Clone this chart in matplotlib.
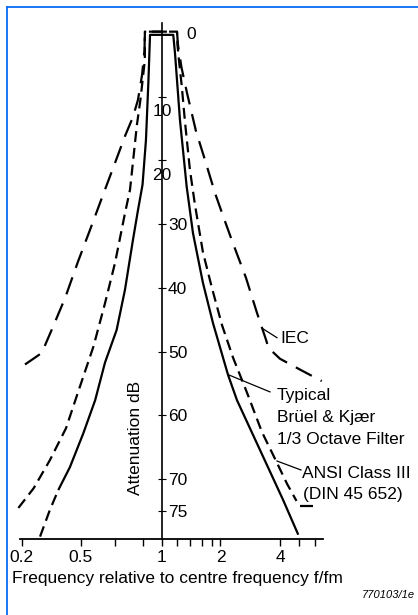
import numpy as np
import matplotlib.pyplot as plt
from matplotlib.lines import Line2D

plt.rcParams['font.family'] = ['Liberation Sans', 'DejaVu Sans']

# =========================
# DATOS (f/fm , atenuacion dB)
# =========================

# curva tipica Brüel & Kjær (solida), de izquierda a derecha
typ_f = [0.353, 0.423, 0.507, 0.540, 0.569, 0.610, 0.664, 0.720, 0.758, 0.794, 0.826, 0.851, 0.867,
         1.143, 1.167, 1.238, 1.340, 1.444, 1.625, 1.830, 2.183, 2.424, 3.169, 4.143, 4.951]
typ_db = [71.7, 68.1, 62.8, 57.6, 51.7, 46.6, 40.3, 32.5, 27.8, 23.8, 16.8, 7.4, 0.3,
          0.3, 3.2, 13.7, 24.1, 31.4, 39.2, 45.5, 53.6, 57.6, 65.4, 73.2, 78.7]
# tramo final izquierdo (punteado)
typ_tail_f = [0.266, 0.310, 0.353]
typ_tail_db = [79.0, 74.8, 71.7]

# ANSI Class III (DIN 45 652)
ansi_f = [0.190, 0.241, 0.310, 0.398, 0.479, 0.535, 0.569, 0.600, 0.664, 0.699, 0.750, 0.777, 0.815, 0.815,
          1.195, 1.202, 1.223, 1.263, 1.314, 1.393, 1.479, 1.625, 1.808, 2.035, 2.314, 2.723, 3.243,
          3.818, 4.341, 4.850]
ansi_db = [74.5, 71.4, 67.0, 62.0, 56.4, 49.2, 42.4, 36.1, 28.3, 24.6, 14.4, 10.5, 4.3, -0.2,
           -0.2, 1.9, 4.3, 8.2, 14.0, 21.5, 27.0, 34.4, 40.0, 45.8, 50.9, 56.4, 62.6,
           67.1, 70.7, 73.4]
ansi_floor_f = [5.05, 5.88]
ansi_floor_db = [74.2, 74.2]

# IEC
iec_f = [0.2105, 0.273, 0.325, 0.392, 0.479, 0.528, 0.563, 0.600, 0.664, 0.720, 0.758, 0.790, 0.812, 0.815,
         1.195, 1.209, 1.260, 1.345, 1.496, 1.664, 1.874, 2.083, 2.314, 2.692, 3.060, 3.399, 3.499,
         4.0, 5.052, 6.506]
iec_db = [52.0, 50.2, 46.1, 41.6, 35.9, 30.5, 25.4, 20.4, 16.2, 13.2, 10.5, 6.6, 2.7, -0.2,
          -0.2, 1.9, 5.4, 9.4, 15.4, 19.9, 25.1, 29.1, 33.0, 38.4, 43.9, 48.1, 49.4,
          51.1, 52.8, 54.6]

x_major = [0.2, 0.5, 1, 2, 4]
x_major_labels = ['0.2', '0.5', '1', '2', '4']
x_minor = [0.6, 0.8, 1.2, 1.4, 1.6, 1.8, 5, 6]
y_ticks = [10, 20, 30, 40, 50, 60, 70, 75]

# calibracion del eje de frecuencia (dibujado a mano, no es log puro)
cal_f = [0.01, 0.2, 0.5, 0.6, 0.8, 1, 2, 4, 100]
cal_u = [-171.1, 21.7, 80.7, 115, 143.3, 162, 220.5, 280, 556.3]
cal_lf = np.log10(cal_f)


def fwd(x):
    x = np.asarray(x, dtype=float)
    return np.interp(np.log10(np.clip(x, 1e-9, None)), cal_lf, cal_u)


def inv(u):
    return 10 ** np.interp(np.asarray(u, dtype=float), cal_u, cal_lf)


# =========================
# FIGURA
# =========================

W, H = 418, 615
fig = plt.figure(figsize=(W / 100, H / 100), dpi=100)
ax = fig.add_axes([20 / W, 1 - 539.3 / H, 303 / W, 516 / H])
ax.set_xscale('function', functions=(fwd, inv))
ax.set_xlim(0.1948, 6.605)
ax.set_ylim(79.42, -1.51)

FS = 12.5
lw = 1.6

ax.plot(typ_f, typ_db, color='black', lw=lw, solid_capstyle='butt')
ax.plot(typ_tail_f, typ_tail_db, color='black', lw=lw, dashes=(4.9, 2.7))
ax.plot(ansi_f, ansi_db, color='black', lw=lw, dashes=(4.9, 2.7), clip_on=False)
ax.plot(ansi_floor_f, ansi_floor_db, color='black', lw=lw, solid_capstyle='butt')
ax.plot(iec_f, iec_db, color='black', lw=lw, dashes=(8.1, 4.5))

# lineas de referencia de las etiquetas
ax.plot([3.281, 3.863], [46.4, 47.8], color='black', lw=0.9)
ax.plot([2.208, 3.561], [53.65, 56.3], color='black', lw=0.9)
ax.plot([3.863, 5.111], [67.14, 68.55], color='black', lw=0.9)

ax.text(4.0, 47.85, 'IEC', fontsize=FS, ha='left', va='center')
ax.text(3.863, 56.94, 'Typical', fontsize=FS, ha='left', va='center')
ax.text(3.863, 60.39, 'Brüel & Kjær', fontsize=FS, ha='left', va='center')
ax.text(3.863, 63.84, '1/3 Octave Filter', fontsize=FS, ha='left', va='center')
ax.text(5.171, 69.17, 'ANSI Class III', fontsize=FS, ha='left', va='center')
ax.text(5.231, 72.47, '(DIN 45 652)', fontsize=FS, ha='left', va='center')

# ejes
for s in ['top', 'left']:
    ax.spines[s].set_visible(False)
ax.spines['right'].set_position(('data', 1))
ax.spines['right'].set_linewidth(1.2)
ax.spines['bottom'].set_linewidth(1.3)

ax.set_xticks(x_major, x_major_labels)
ax.set_xticks(x_minor, minor=True)
ax.tick_params(axis='x', which='both', direction='out', length=5, width=1,
               labelsize=FS, pad=3)

ax.yaxis.tick_right()
ax.set_yticks(y_ticks)
ax.tick_params(axis='y', direction='inout', length=5.3, width=0.8, labelright=False)

for v in y_ticks:
    if v in (10, 20):
        ax.annotate(str(v), xy=(1, v), xytext=(0, -9.4), textcoords='offset points',
                    ha='center', va='center_baseline', fontsize=FS)
    else:
        ax.annotate(str(v), xy=(1, v), xytext=(4.3, 0), textcoords='offset points',
                    ha='left', va='center_baseline', fontsize=FS)
ax.annotate('0', xy=(1, 0), xytext=(17.3, 0), textcoords='offset points',
            ha='left', va='center_baseline', fontsize=FS)

fig.text(12 / W, 1 - 578 / H, 'Frequency relative to centre frequency f/fm',
         ha='left', va='center', fontsize=FS)
fig.text(135.5 / W, 1 - 438 / H, 'Attenuation dB', rotation=90,
         ha='center', va='center', fontsize=FS)
fig.text(415 / W, 1 - 595 / H, '770103/1e', ha='right', va='center',
         style='italic', fontsize=8)

# marco azul
blue = '#0A6CF5'
fig.add_artist(Line2D([7 / W, 1], [1 - 6.5 / H] * 2, transform=fig.transFigure, color=blue, lw=1.3))
fig.add_artist(Line2D([7 / W] * 2, [0, 1 - 6.5 / H], transform=fig.transFigure, color=blue, lw=1.3))

fig.savefig('out.png', dpi=100)
